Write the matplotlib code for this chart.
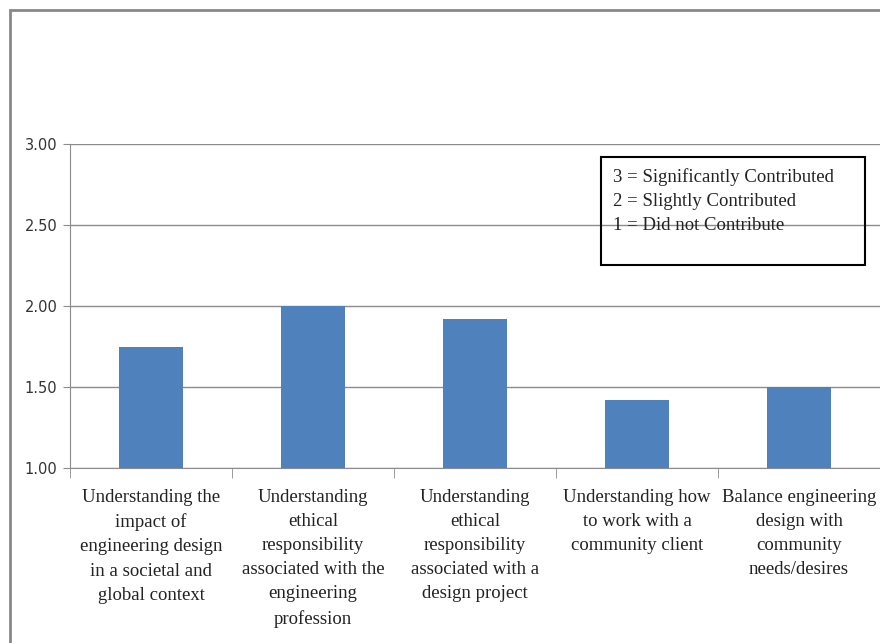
import matplotlib.pyplot as plt
import matplotlib.patches as patches
import numpy as np

# Data
categories = ['Understanding the\nimpact of\nengineering design\nin a societal and\nglobal context',
              'Understanding\nethical\nresponsibility\nassociated with the\nengineering\nprofession',
              'Understanding\nethical\nresponsibility\nassociated with a\ndesign project',
              'Understanding how\nto work with a\ncommunity client',
              'Balance engineering\ndesign with\ncommunity\nneeds/desires']
scores = [1.75, 2.00, 1.92, 1.42, 1.50]
y_ticks = [1.00, 1.50, 2.00, 2.50, 3.00]
key_lines = ['3 = Significantly Contributed', '2 = Slightly Contributed', '1 = Did not Contribute']

W, H = 880, 643
fig = plt.figure(figsize=(W / 100, H / 100), dpi=100)
ax = fig.add_axes([70 / W, 1 - 468 / H, 1 - 70 / W, (468 - 144) / H])

x = np.arange(len(categories))
ax.bar(x, scores, width=0.4, color='#4f81bd', zorder=3)

ax.set_ylim(1, 3)
ax.set_xlim(-0.5, len(categories) - 0.5)
ax.set_yticks(y_ticks)
ax.set_yticklabels([f'{v:.2f}' for v in y_ticks], fontsize=10.5, family='DejaVu Sans', color='#333333')
ax.yaxis.grid(True, color='#8c8c8c', linewidth=1, zorder=0)

# category labels centred, tick marks at the boundaries
ax.set_xticks(x)
ax.set_xticklabels(categories, fontsize=13.5, family='Liberation Serif', linespacing=1.55, va='top',
                   color='#222222')
ax.tick_params(axis='x', length=0, pad=15)
ax.set_xticks(np.arange(-0.5, len(categories), 1), minor=True)
ax.tick_params(axis='x', which='minor', length=7, color='#8c8c8c', direction='out')
ax.tick_params(axis='y', length=5, color='#8c8c8c', direction='out', pad=4)

for s in ['top', 'right']:
    ax.spines[s].set_visible(False)
ax.spines['left'].set_color('#8c8c8c')
ax.spines['bottom'].set_color('#8c8c8c')

# key box
fig.text(613 / W, 1 - 168 / H, '\n'.join(key_lines), fontsize=13.5, family='Liberation Serif',
         va='top', ha='left', linespacing=1.55, color='#222222')
fig.add_artist(patches.Rectangle((601 / W, 1 - 265 / H), 264 / W, 108 / H, transform=fig.transFigure,
                                 fill=False, edgecolor='black', linewidth=1.5))

# outer chart frame
fig.add_artist(patches.Rectangle((10 / W, -0.05), 1.1, 1 - 10 / H + 0.05, transform=fig.transFigure,
                                 fill=False, edgecolor='#888888', linewidth=2))

fig.savefig('out.png', dpi=100)
